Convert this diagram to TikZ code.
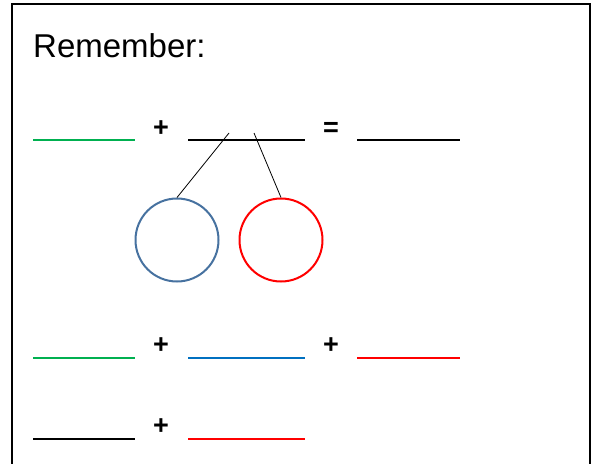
\documentclass[tikz,border=0pt]{standalone}
\usepackage{tikz}
\usetikzlibrary{positioning}
\usepackage{fontspec}
\setsansfont{Liberation Sans}
\definecolor{lgreen}{RGB}{0,176,80}
\definecolor{lblue}{RGB}{0,112,192}
\definecolor{cblue}{RGB}{71,114,160}
\definecolor{lred}{RGB}{255,0,0}
\newcommand{\signfont}{\sffamily\bfseries\fontsize{27}{27}\selectfont}
\tikzset{blank/.style={line width=2pt},
         sign/.style={inner sep=0pt},
         part/.style={draw, circle, line width=2pt, minimum size=83pt, inner sep=0pt}}

\begin{document}
\begin{tikzpicture}[x=1pt, y=-1pt]
			\useasboundingbox (0,0) rectangle (599,463);

			% Frame
			\draw[line width=2.5pt] (12,470) -- (12,4) -- (590,4) -- (590,470);
			\node (title) [anchor=base west, inner sep=0pt] at (33,57) {\fontsize{33}{33}\selectfont\sffamily Remember:};

			% First line
			\coordinate (r1a) at (33,140);
			\coordinate (r1b) at (188,140);
			\coordinate (r1c) at (357,140);
			\draw[blank, lgreen] (r1a) -- ++(102,0);
			\draw[blank] (r1b) -- ++(117,0);
			\draw[blank] (r1c) -- ++(103,0);
			\node (p1) [sign] at (161,129) {\signfont +};
			\node (e1) [sign] at (331,129) {\signfont =};

			% Split into two parts
			\node (bluepart) [part, draw=cblue] at (177,240) {};
			\node (redpart) [part, draw=lred] at (281,240) {};
			\coordinate (s1) at (229,133);
			\coordinate (s2) at (254,133);
			\draw[line width=0.8pt] (s1) -- (bluepart.north);
			\draw[line width=0.8pt] (s2) -- (redpart.north);

			% Second line
			\coordinate (r2a) at (33,358);
			\coordinate (r2b) at (188,358);
			\coordinate (r2c) at (357,358);
			\draw[blank, lgreen] (r2a) -- ++(102,0);
			\draw[blank, lblue] (r2b) -- ++(117,0);
			\draw[blank, lred] (r2c) -- ++(103,0);
			\node (p2) [sign] at (161,346) {\signfont +};
			\node (p3) [sign] at (331,346) {\signfont +};

			% Third line
			\coordinate (r3a) at (33,439);
			\coordinate (r3b) at (188,439);
			\draw[blank] (r3a) -- ++(102,0);
			\draw[blank, lred] (r3b) -- ++(117,0);
			\node (p4) [sign] at (161,427) {\signfont +};

\end{tikzpicture}
\end{document}
